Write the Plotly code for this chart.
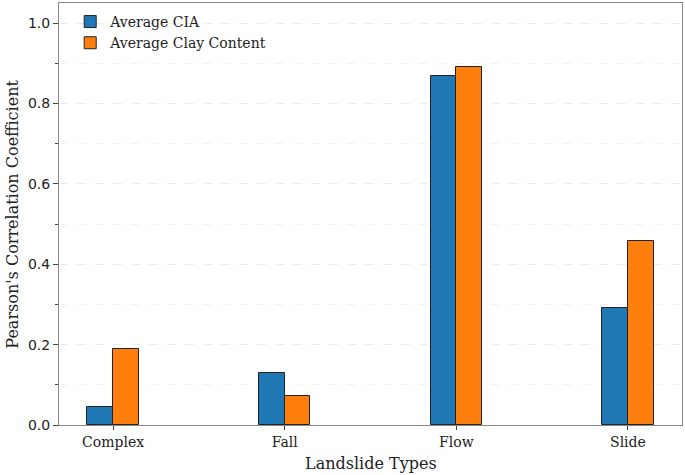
import plotly.graph_objects as go

categories = ["Complex", "Fall", "Flow", "Slide"]
avg_cia = [0.046, 0.129, 0.868, 0.290]
avg_clay = [0.188, 0.072, 0.891, 0.459]
series_names = ["Average CIA", "Average Clay Content"]
colors = ["#1f77b4", "#ff7f0e"]
y_ticks = [0.0, 0.2, 0.4, 0.6, 0.8, 1.0]
y_minor = [0.1, 0.3, 0.5, 0.7, 0.9]

xpos = list(range(len(categories)))
w = 0.15

fig = go.Figure()
for vals, name, col, off in [(avg_cia, series_names[0], colors[0], -w / 2),
                             (avg_clay, series_names[1], colors[1], w / 2)]:
    fig.add_trace(go.Bar(
        x=[p + off for p in xpos], y=vals, name=name, width=w,
        marker=dict(color=col, line=dict(color="#222222", width=1)),
    ))

serif = "DejaVu Serif"
sans = "DejaVu Sans"

fig.update_layout(
    width=685, height=475,
    margin=dict(l=59, r=3, t=3, b=50, autoexpand=False),
    plot_bgcolor="white", paper_bgcolor="white",
    showlegend=True,
    legend=dict(x=0.018, y=0.993, xanchor="left", yanchor="top",
                font=dict(family=serif, size=14, color="#222"),
                bgcolor="rgba(255,255,255,0)", itemwidth=30, tracegroupgap=2),
    bargap=0,
    xaxis=dict(
        range=[-0.315, 3.315],
        tickmode="array", tickvals=xpos, ticktext=categories,
        tickfont=dict(family=serif, size=14, color="#222"),
        ticks="outside", ticklen=4, tickcolor="#444",
        showline=True, linecolor="#888", linewidth=1, mirror=True,
        showgrid=False, zeroline=False, automargin=False,
    ),
    yaxis=dict(
        range=[0, 1.05],
        tickmode="array", tickvals=y_ticks,
        ticktext=[f"{v:.1f}" for v in y_ticks],
        tickfont=dict(family=sans, size=14, color="#222"),
        ticks="outside", ticklen=5, tickcolor="#444",
        showline=True, linecolor="#888", linewidth=1, mirror=True,
        showgrid=True, gridcolor="rgba(0,0,0,0.07)", griddash="dash", gridwidth=1,
        zeroline=False, automargin=False,
        minor=dict(tickvals=y_minor, ticks="outside", ticklen=3,
                   tickcolor="#444", showgrid=True, gridcolor="rgba(0,0,0,0.045)", griddash="dash"),
    ),
    annotations=[
        dict(text="Landslide Types", xref="paper", yref="paper", x=0.5, y=-0.092,
             xanchor="center", yanchor="middle", showarrow=False,
             font=dict(family=serif, size=16, color="#222")),
        dict(text="Pearson's Correlation Coefficient", xref="paper", yref="paper",
             x=-0.076, y=0.5, xanchor="center", yanchor="middle", textangle=-90,
             showarrow=False, font=dict(family=serif, size=16, color="#222")),
    ],
)

fig.write_html("out.html", config={"displayModeBar": False},
               post_script="document.body.style.margin='0px';document.body.style.overflow='hidden';")
